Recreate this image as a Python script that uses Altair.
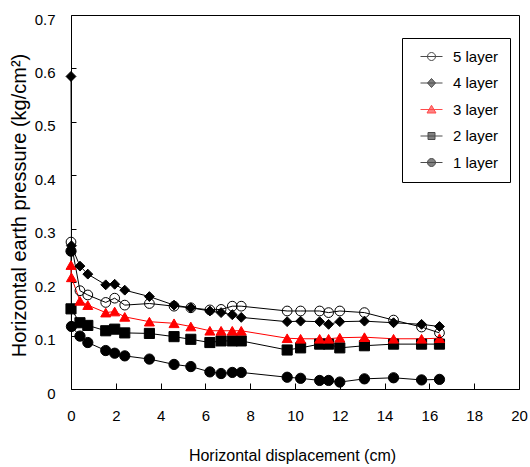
import altair as alt
import pandas as pd

series = ["5 layer", "4 layer", "3 layer", "2 layer", "1 layer"]
x_tail = [0.4, 0.75, 1.55, 1.95, 2.4, 3.5, 4.6, 5.35, 6.2, 6.7, 7.2, 7.6,
          9.65, 10.25, 11.1, 11.5, 12.0, 13.1, 14.4, 15.65, 16.45]

x5 = [0.0] + x_tail
y5 = [0.275, 0.184, 0.176, 0.162, 0.170, 0.157, 0.160, 0.155, 0.152, 0.148, 0.149,
      0.155, 0.155, 0.146, 0.146, 0.146, 0.143, 0.146, 0.143, 0.129, 0.116, 0.105]
x4 = [0.0, 0.02] + x_tail
y4 = [0.585, 0.268, 0.230, 0.215, 0.195, 0.196, 0.185, 0.173, 0.157, 0.152, 0.146,
      0.143, 0.139, 0.134, 0.126, 0.127, 0.126, 0.121, 0.126, 0.127, 0.124, 0.121, 0.117]
x3 = [0.0, 0.02] + x_tail
y3 = [0.232, 0.209, 0.165, 0.157, 0.143, 0.145, 0.135, 0.126, 0.123, 0.117, 0.109,
      0.109, 0.109, 0.109, 0.095, 0.094, 0.094, 0.094, 0.096, 0.097, 0.094, 0.094, 0.095]
x2 = [0.0] + x_tail
y2 = [0.150, 0.124, 0.119, 0.109, 0.112, 0.105, 0.104, 0.098, 0.093, 0.087, 0.090,
      0.090, 0.090, 0.073, 0.077, 0.084, 0.084, 0.077, 0.081, 0.084, 0.084, 0.084]
x1 = [0.0, 0.02] + x_tail
y1 = [0.258, 0.117, 0.099, 0.087, 0.072, 0.067, 0.062, 0.056, 0.046, 0.042, 0.032,
      0.029, 0.031, 0.031, 0.022, 0.020, 0.016, 0.016, 0.013, 0.019, 0.021, 0.017, 0.018]

x_ticks = [0, 2, 4, 6, 8, 10, 12, 14, 16, 18, 20]
y_ticks = [0, 0.1, 0.2, 0.3, 0.4, 0.5, 0.6, 0.7]

rows = []
for name, xs, ys in [("1 layer", x1, y1), ("2 layer", x2, y2), ("3 layer", x3, y3),
                     ("4 layer", x4, y4), ("5 layer", x5, y5)]:
    for i, (xv, yv) in enumerate(zip(xs, ys)):
        rows.append({"series": name, "x": xv, "y": yv, "i": i})
df = pd.DataFrame(rows)

FONT = "Liberation Sans"
point_shapes = ["circle", "diamond", "triangle-up", "square", "circle"]
point_sizes = [95, 105, 105, 80, 95]
fills = ["transparent", "black", "red", "black", "black"]
strokes = ["black", "black", "red", "black", "black"]
legend_paths = [
    "M-2.2,0H2.2M-0.8,0A0.8,0.8,0,1,0,0.8,0A0.8,0.8,0,1,0,-0.8,0Z",
    "M-2.2,0H2.2M0,-0.9L0.8,0L0,0.9L-0.8,0Z",
    "M-2.2,0H2.2M0,-0.85L0.9,0.7L-0.9,0.7Z",
    "M-2.2,0H2.2M-0.7,-0.7H0.7V0.7H-0.7Z",
    "M-2.2,0H2.2M-0.8,0A0.8,0.8,0,1,0,0.8,0A0.8,0.8,0,1,0,-0.8,0Z",
]

x_enc = alt.X("x:Q", scale=alt.Scale(domain=[0, 20], nice=False, zero=False),
              axis=alt.Axis(values=x_ticks, title="Horizontal displacement (cm)",
                            domain=False, grid=False, offset=-6, tickSize=6,
                            labelPadding=19, labelFontSize=15, titleFontSize=16,
                            labelFlush=False, labelOverlap=False,
                            titleX=221, titleY=72, titleBaseline="middle",
                            titleAlign="center"))
y_enc = alt.Y("y:Q", scale=alt.Scale(domain=[0, 0.7], nice=False),
              axis=alt.Axis(values=y_ticks, format=".1~f",
                            title="Horizontal earth pressure (kg/cm²)",
                            domain=False, grid=False, offset=-5, tickSize=5,
                            labelPadding=16, labelOffset=4, labelFontSize=15,
                            labelFlush=False, labelOverlap=False,
                            titleFontSize=20, titleX=-57, titleY=190,
                            titleAlign="center", titleBaseline="middle", titleAngle=270))

lines = alt.Chart(df).mark_line(strokeWidth=1).encode(
    x=x_enc, y=y_enc,
    detail="series:N",
    order="i:Q",
    stroke=alt.Stroke("series:N", scale=alt.Scale(domain=series, range=strokes), legend=None),
)

points = alt.Chart(df).mark_point(filled=True, strokeWidth=1, opacity=1).encode(
    x=x_enc, y=y_enc,
    shape=alt.Shape("series:N", scale=alt.Scale(domain=series, range=point_shapes), legend=None),
    fill=alt.Fill("series:N", scale=alt.Scale(domain=series, range=fills), legend=None),
    stroke=alt.Stroke("series:N", scale=alt.Scale(domain=series, range=strokes), legend=None),
    size=alt.Size("series:N", scale=alt.Scale(domain=series, range=point_sizes), legend=None),
)

leg = alt.Legend(orient="none", legendX=331, legendY=23, title=None, padding=11,
                 symbolOffset=11, labelOffset=14, rowPadding=10.5, symbolSize=100,
                 symbolStrokeWidth=1, labelFontSize=15, labelFont=FONT,
                 labelColor="black", fillColor="white", strokeColor="black")

legend_layer = alt.Chart(df).transform_filter(alt.datum.x < -100).mark_point(
    filled=True, strokeWidth=1).encode(
    x=x_enc, y=y_enc,
    shape=alt.Shape("series:N", scale=alt.Scale(domain=series, range=legend_paths), legend=leg),
    fill=alt.Fill("series:N", scale=alt.Scale(domain=series, range=fills), legend=leg),
    stroke=alt.Stroke("series:N", scale=alt.Scale(domain=series, range=strokes), legend=leg),
)

chart = alt.layer(lines, points, legend_layer).resolve_scale(
    shape="independent", fill="independent", stroke="independent", size="independent"
).properties(
    width=448, height=374,
    autosize=alt.AutoSizeParams(type="none"),
    padding={"left": 71, "top": 15, "right": 11, "bottom": 78},
).configure_view(stroke="black", strokeWidth=1).configure_axis(
    labelFont=FONT, titleFont=FONT, labelColor="black", titleColor="black",
    tickColor="black", titleFontWeight="normal", tickWidth=1
)

chart.save("out.html", embed_options={"renderer": "svg", "actions": False})
